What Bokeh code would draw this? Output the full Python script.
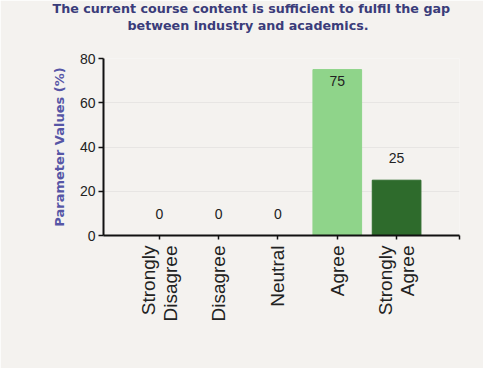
import math
from bokeh.plotting import figure
from bokeh.models import Range1d, FixedTicker, ColumnDataSource, Title
from bokeh.core.properties import value
from bokeh.embed import file_html
from bokeh.resources import INLINE

categories = ["Strongly\nDisagree", "Disagree", "Neutral", "Agree", "Strongly\nAgree"]
values = [0, 0, 0, 75, 25]
y_ticks = [0, 20, 40, 60, 80]
title_lines = ["The current course content is sufficient to fulfil the gap",
               "between industry and academics."]
bar_colors = ["#8fd48a", "#8fd48a", "#8fd48a", "#8fd48a", "#2e6b2c"]

positions = list(range(1, len(categories) + 1))
labels = [str(v) for v in values]
inside = [v > 50 for v in values]

X_START, X_END = 0.06, 6.06
BG = "#f4f2ef"
p = figure(width=483, height=368, output_backend="svg", toolbar_location=None,
           x_range=Range1d(X_START, X_END), y_range=Range1d(0, 80),
           min_border_left=103, min_border_right=24, min_border_top=58, min_border_bottom=133)
p.background_fill_color = BG
p.border_fill_color = BG
p.outline_line_color = None

src = ColumnDataSource(dict(x=positions, top=values, color=bar_colors))
p.vbar(x="x", top="top", width=0.82, color="color", source=src)

out_src = ColumnDataSource(dict(x=[x for x, i in zip(positions, inside) if not i],
                                y=[v for v, i in zip(values, inside) if not i],
                                t=[l for l, i in zip(labels, inside) if not i]))
in_src = ColumnDataSource(dict(x=[x for x, i in zip(positions, inside) if i],
                               y=[v for v, i in zip(values, inside) if i],
                               t=[l for l, i in zip(labels, inside) if i]))
p.text(x="x", y="y", text="t", source=out_src, text_align="center", text_baseline="bottom",
       y_offset=-17, text_font=value("Liberation Sans"), text_font_size="14px", text_color="#222222")
p.text(x="x", y="y", text="t", source=in_src, text_align="center", text_baseline="top",
       y_offset=6, text_font=value("Liberation Sans"), text_font_size="14px", text_color="#222222")

p.title = None
spacer = Title(text=" ", standoff=0, text_font_size="20px")
t2 = Title(text=title_lines[1], align="left", offset=24, standoff=0, vertical_align="top",
           text_font="DejaVu Sans", text_font_style="bold", text_font_size="12.7px",
           text_color="#3a3c7a")
t1 = Title(text=title_lines[0], align="left", offset=-51, standoff=0, vertical_align="top",
           text_font="DejaVu Sans", text_font_style="bold", text_font_size="12.7px",
           text_color="#3a3c7a")
p.add_layout(spacer, "above")
p.add_layout(t2, "above")
p.add_layout(t1, "above")

p.xgrid.grid_line_color = None
p.ygrid.grid_line_color = "#e7e5e3"
p.ygrid.ticker = FixedTicker(ticks=y_ticks)

p.xaxis.ticker = FixedTicker(ticks=positions + [X_END])
overrides = {pos: c for pos, c in zip(positions, categories)}
overrides[X_END] = ""
p.xaxis.major_label_overrides = overrides
p.xaxis.major_label_orientation = math.pi / 2
p.xaxis.major_label_text_font = "Liberation Sans"
p.xaxis.major_label_text_font_size = "19px"
p.xaxis.major_label_text_line_height = 1.05
p.xaxis.major_label_text_color = "#222222"
p.xaxis.major_label_standoff = 6
p.xaxis.minor_tick_line_color = None
p.xaxis.major_tick_in = 0
p.xaxis.major_tick_out = 4

p.yaxis.ticker = FixedTicker(ticks=y_ticks)
p.yaxis.axis_label = "Parameter Values (%)"
p.yaxis.axis_label_text_font = "DejaVu Sans"
p.yaxis.axis_label_text_font_style = "bold"
p.yaxis.axis_label_text_font_size = "13px"
p.yaxis.axis_label_text_color = "#5656a6"
p.yaxis.axis_label_standoff = 10
p.yaxis.major_label_text_font = "Liberation Sans"
p.yaxis.major_label_text_font_size = "14px"
p.yaxis.major_label_text_color = "#222222"
p.yaxis.major_label_standoff = 3
p.yaxis.minor_tick_line_color = None
p.yaxis.major_tick_in = 0
p.yaxis.major_tick_out = 5

for ax in (p.xaxis, p.yaxis):
    ax.axis_line_color = "#111111"
    ax.axis_line_width = 2
    ax.major_tick_line_color = "#111111"
    ax.major_tick_line_width = 1.5

open("out.html", "w").write(file_html(p, INLINE))
